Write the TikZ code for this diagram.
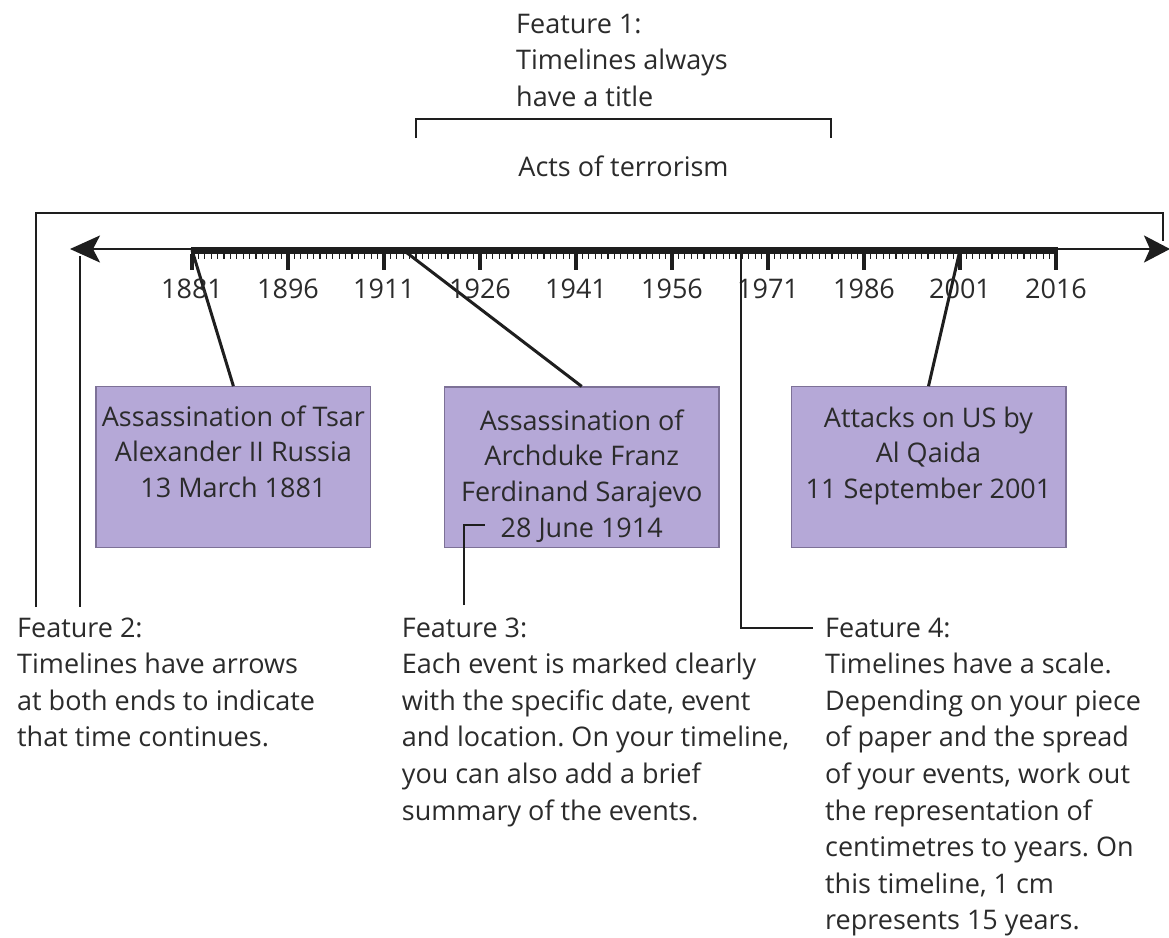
\documentclass[tikz,border=0pt]{standalone}
\usepackage{fontspec}
\setmainfont{Open Sans}
\usetikzlibrary{arrows.meta}
\frenchspacing
\definecolor{ink}{HTML}{2B2B2B}
\definecolor{linec}{HTML}{1E1E1E}
\definecolor{boxfill}{HTML}{B5A8D7}
\definecolor{boxedge}{HTML}{7D7197}
% multi-line text block whose baseline is the first line
\newcommand{\txtlines}[2][l]{\begin{tabular}[t]{@{}#1@{}}#2\end{tabular}}

\begin{document}
\begin{tikzpicture}[x=1pt,y=-1pt,
  txt/.style={inner sep=0pt, text=ink, font=\fontsize{27}{36.6}\selectfont},
  note/.style={txt, anchor=base west},
  boxtxt/.style={inner sep=0pt, text=ink, font=\fontsize{27}{35.8}\selectfont, anchor=base},
  yearlbl/.style={txt, anchor=base},
  evbox/.style={draw=boxedge, line width=1.3pt, fill=boxfill,
                minimum width=274.7pt, minimum height=160.5pt, inner sep=0pt},
  guide/.style={draw=linec, line width=1.7pt},
  link/.style={draw=linec, line width=3pt},
  minortick/.style={draw=linec, line width=1.1pt},
  majortick/.style={draw=linec, line width=3.4pt},
  axisline/.style={draw=linec, fill=linec, line width=2.4pt}
]
\fill[white] (0,0) rectangle (1169,937);
\useasboundingbox (0,0) rectangle (1169,937);

% ---- title and its bracket ----
\node[note] (feat1) at (516,33.3) {\txtlines{Feature 1:\\Timelines always\\have a title}};
\node[txt, anchor=base] (title) at (623.5,176.7) {Acts of terrorism};
\coordinate (brL) at (416,138);
\coordinate (brTop) at (831,119);
\coordinate (brR) at (831,138);
\draw[guide] (brL) |- (brTop) -- (brR);

% ---- event boxes ----
\node[evbox] (b1) at (233.4,467) {};
\node[evbox] (b2) at (581.7,467.3) {};
\node[evbox] (b3) at (928.5,467) {};
\node[boxtxt] (e1) at (233.4,426) {\txtlines[c]{Assassination of Tsar\\Alexander II Russia\\13 March 1881}};
\node[boxtxt] (e2) at (581.7,430) {\txtlines[c]{Assassination of\\Archduke Franz\\Ferdinand Sarajevo\\28 June 1914}};
\node[boxtxt] (e3) at (928.5,427) {\txtlines[c]{Attacks on US by\\Al Qaida\\11 September 2001}};

% ---- points on the time axis (1 year = 6.4pt, 1881 at x=192) ----
\coordinate (t1881) at (192,250);
\coordinate (t1914) at (403.2,250);
\coordinate (t2001) at (960,250);
\coordinate (t1971) at (741,254);

% event links
\draw[link] (t1881) -- (b1.north);
\draw[link] (t1914) -- (b2.north);
\draw[link] (t2001) -- (b3.north);

% ---- the axis with both arrow heads ----
\coordinate (axL) at (70,249);
\coordinate (axR) at (1170,249);
\draw[axisline, {Stealth[length=30pt, width=27pt, inset=7pt]}-{Stealth[length=26pt, width=27pt, inset=6pt]}] (axL) -- (axR);
\fill[linec] (190.5,246.5) rectangle (1057.5,254);
\foreach \i in {0,...,135}
  \draw[minortick] ({192+6.4*\i},253.5) -- ++(0,5);
\foreach \k in {0,...,9}
  \draw[majortick] ({192+96*\k},253.5) -- ++(0,16.5);
\foreach \k/\yr in {0/1881,1/1896,2/1911,3/1926,4/1941,5/1956,6/1971,7/1986,8/2001,9/2016}
  \node[yearlbl] (y\yr) at ({192+96*\k},298.3) {\yr};

% ---- feature 2: frame round the axis and pointer to the left arrow ----
\coordinate (f2a) at (36,607);
\coordinate (frTR) at (1163,213);
\coordinate (frR) at (1163,241);
\draw[guide] (f2a) |- (frTR) -- (frR);
\coordinate (f2top) at (80,256);
\coordinate (f2b) at (80,607);
\draw[guide] (f2top) -- (f2b);
\node[note] (feat2) at (17,637) {\txtlines{Feature 2:\\Timelines have arrows\\at both ends to indicate\\that time continues.}};

% ---- feature 3 ----
\coordinate (f3a) at (464,605);
\coordinate (f3b) at (485,525);
\draw[guide] (f3a) |- (f3b);
\node[note] (feat3) at (401.7,637) {\txtlines{Feature 3:\\Each event is marked clearly\\with the specific date, event\\and location. On your timeline,\\you can also add a brief\\summary of the events.}};

% ---- feature 4 ----
\coordinate (f4b) at (813,628);
\draw[guide] (t1971) |- (f4b);
\node[note] (feat4) at (825,637) {\txtlines{Feature 4:\\Timelines have a scale.\\Depending on your piece\\of paper and the spread\\of your events, work out\\the representation of\\centimetres to years. On\\this timeline, 1 cm\\represents 15 years.}};
\end{tikzpicture}
\end{document}
